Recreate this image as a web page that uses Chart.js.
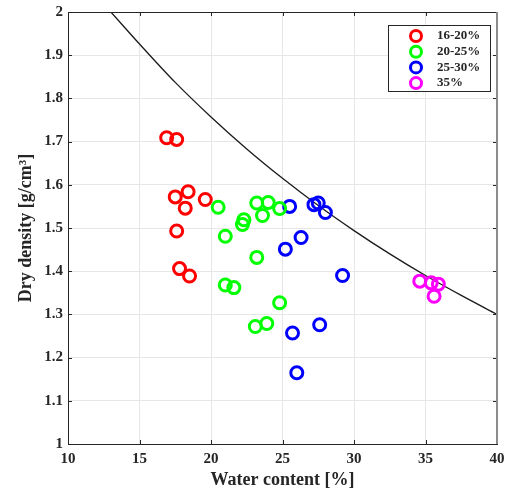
<!DOCTYPE html><html lang="en"><meta charset="utf-8">
<title>Dry density vs water content</title>
<script src="https://cdn.jsdelivr.net/npm/chart.js@4.4.1"></script>
<style>
html,body{margin:0;background:#fff}
#wrap{width:507px;height:495px}
</style>
<body>
<div id="wrap"><canvas id="chart" width="507" height="495"></canvas></div>
<script>
// scatter groups, [water content %, dry density g/cm3]
const red16_20   = [[16.9,1.709],[17.6,1.705],[18.4,1.584],[17.5,1.572],[19.6,1.566],[18.2,1.546],[17.6,1.493],[17.8,1.406],[18.5,1.389]];
const green20_25 = [[20.5,1.548],[21.0,1.481],[22.3,1.519],[22.2,1.508],[23.2,1.558],[24.0,1.559],[23.6,1.529],[24.8,1.545],[23.2,1.432],[21.0,1.368],[21.6,1.362],[24.8,1.327],[23.1,1.272],[23.9,1.279]];
const blue25_30  = [[25.5,1.550],[27.2,1.554],[27.5,1.558],[28.0,1.536],[26.3,1.478],[25.2,1.451],[29.2,1.390],[25.7,1.257],[27.6,1.276],[26.0,1.165]];
const mag35      = [[34.6,1.377],[35.4,1.373],[35.9,1.370],[35.6,1.342]];
// black curve
const curveW   = [13.0,15,17.5,20,22.5,25,27.5,30,32.5,35,37.5,40];
const curveRho = [2.0,1.926,1.837,1.757,1.683,1.615,1.552,1.494,1.440,1.390,1.344,1.300];

const xTicks = [10,15,20,25,30,35,40];
const yTicks = [1,1.1,1.2,1.3,1.4,1.5,1.6,1.7,1.8,1.9,2];

const FONT = '"Liberation Serif","Times New Roman",serif';
const TXT = '#262626';

const pts = a => a.map(([x,y])=>({x,y}));
const grp = (label,data,color) => ({type:'scatter',label,data:pts(data),borderColor:color,backgroundColor:'rgba(0,0,0,0)',
  pointRadius:6,pointHoverRadius:6,pointBorderWidth:3,pointStyle:'circle',showLine:false});

/* box + inner ticks like matlab */
const boxPlugin = {
  id:'box',
  afterDraw(c){
    const {ctx,chartArea:a,scales:{x,y}} = c;
    ctx.save();
    ctx.lineWidth = 1;
    ctx.strokeStyle = TXT;
    xTicks.forEach(v=>{const px=Math.round(x.getPixelForValue(v))+.5;
      ctx.beginPath();ctx.moveTo(px,a.bottom);ctx.lineTo(px,a.bottom-4);ctx.moveTo(px,a.top);ctx.lineTo(px,a.top+4);ctx.stroke();});
    yTicks.forEach(v=>{const py=Math.round(y.getPixelForValue(v))+.5;
      ctx.beginPath();ctx.moveTo(a.left,py);ctx.lineTo(a.left+4,py);ctx.moveTo(a.right,py);ctx.lineTo(a.right-4,py);ctx.stroke();});
    ctx.beginPath();ctx.moveTo(a.left,a.top+.5);ctx.lineTo(a.right,a.top+.5);ctx.stroke();
    ctx.strokeStyle='#8c8c8c';ctx.lineWidth=2;
    ctx.beginPath();ctx.moveTo(a.right,a.top);ctx.lineTo(a.right,a.bottom);ctx.stroke();
    ctx.restore();
  }
};

new Chart(document.getElementById('chart'),{
  data:{datasets:[
    grp('16-20%',red16_20,'#ff0000'),
    grp('20-25%',green20_25,'#00ff00'),
    grp('25-30%',blue25_30,'#0000ff'),
    grp('35%',mag35,'#ff00ff'),
    {type:'line',label:'curve',data:curveW.map((w,i)=>({x:w,y:curveRho[i]})),borderColor:'#1a1a1a',borderWidth:1.3,
     pointRadius:0,cubicInterpolationMode:'monotone',fill:false}
  ]},
  options:{
    animation:false,responsive:false,
    layout:{padding:{left:0,right:10,top:12,bottom:0}},
    scales:{
      x:{type:'linear',min:10,max:40,
        afterBuildTicks:s=>{s.ticks=xTicks.map(v=>({value:v}));},
        afterFit:s=>{s.height=51;s.paddingLeft=0;s.paddingRight=0;},
        grid:{color:'#e6e6e6',drawTicks:false},
        border:{color:TXT,width:1},
        ticks:{font:{family:FONT,size:15,weight:'bold'},color:TXT,padding:6},
        title:{display:true,text:'Water content [%]',font:{family:FONT,size:18,weight:'bold'},color:TXT,padding:{top:0}}},
      y:{type:'linear',min:1,max:2,
        afterBuildTicks:s=>{s.ticks=yTicks.map(v=>({value:v}));},
        afterFit:s=>{s.width=68;s.paddingTop=0;s.paddingBottom=0;},
        grid:{color:'#e6e6e6',drawTicks:false},
        border:{color:TXT,width:1},
        ticks:{font:{family:FONT,size:15,weight:'bold'},color:TXT,padding:5,callback:v=>String(+v.toFixed(1))},
        title:{display:true,text:'Dry density [g/cm\u00B3]',font:{family:FONT,size:18,weight:'bold'},color:TXT,padding:{top:16,bottom:2}}}
    },
    plugins:{
      tooltip:{enabled:false},
      legend:{display:false}
    }
  },
  plugins:[boxPlugin,{
    id:'leg',
    afterDraw(c){
      const ctx=c.ctx, L=388, T=25, W=102, H=66;
      const items=[['16-20%','#ff0000'],['20-25%','#00ff00'],['25-30%','#0000ff'],['35%','#ff00ff']];
      ctx.save();
      ctx.fillStyle='#fff';ctx.fillRect(L,T,W,H);
      ctx.strokeStyle=TXT;ctx.lineWidth=1;ctx.strokeRect(L+.5,T+.5,W,H);
      ctx.font='bold 13px '+FONT;ctx.textBaseline='middle';
      items.forEach(([t,col],i)=>{
        const cy=T+11+i*15.7;
        ctx.beginPath();ctx.arc(416,cy,5.5,0,Math.PI*2);ctx.strokeStyle=col;ctx.lineWidth=3;ctx.stroke();
        ctx.fillStyle=TXT;ctx.fillText(t,437,cy);
      });
      ctx.restore();
    }
  }]
});
</script>
</body></html>
